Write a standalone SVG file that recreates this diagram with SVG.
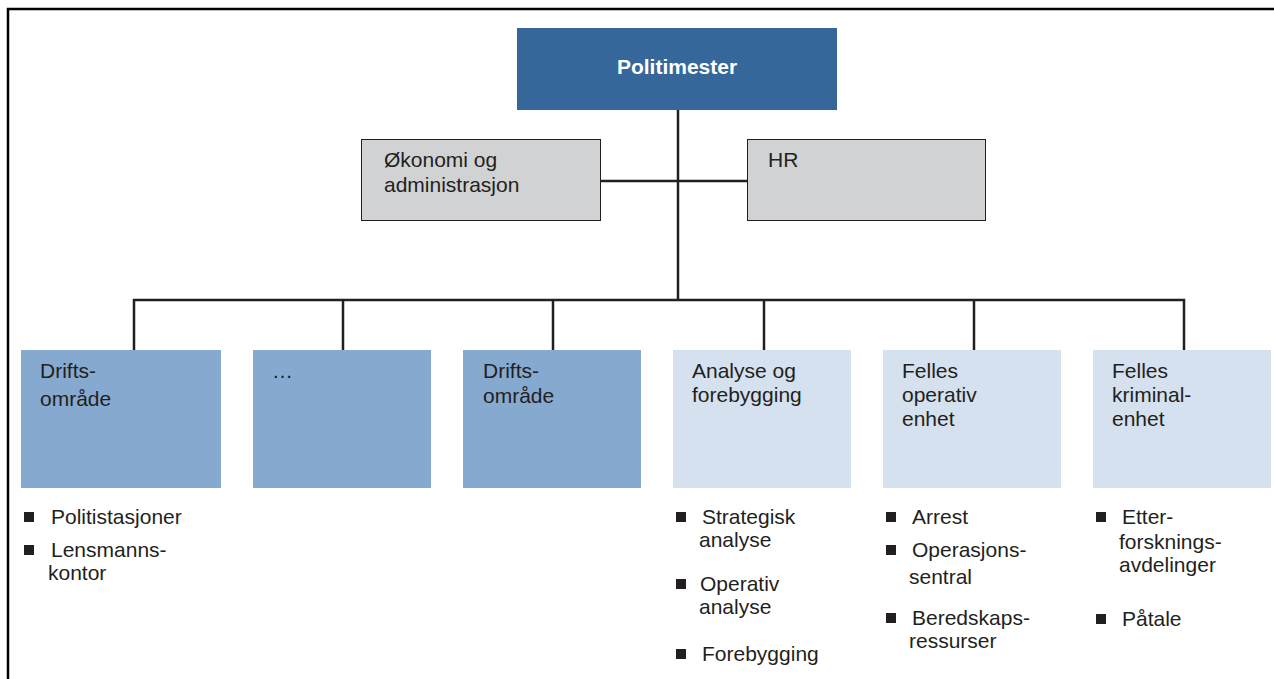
<svg xmlns="http://www.w3.org/2000/svg" width="1274" height="679" viewBox="0 0 1274 679">
  <style>
    text { font-family: "Liberation Sans", Arial, sans-serif; font-size: 21px; fill: #231f20; }
    .title { font-weight: bold; fill: #ffffff; text-anchor: middle; }
    .top { fill: #35679a; }
    .staff { fill: #d1d2d4; stroke: #231f20; stroke-width: 1; }
    .district { fill: #86a9d0; }
    .unit { fill: #d5e1ee; }
    .bullet { fill: #231f20; }
    .conn { fill: none; stroke: #231f20; stroke-width: 2.5; }
    .frame { fill: none; stroke: #000000; stroke-width: 2.5; }
  </style>

  <rect x="0" y="0" width="1274" height="679" fill="#ffffff"/>
  <path class="frame" d="M8,679 V9 H1274"/>

  <!-- connectors -->
  <g id="connectors">
    <path class="conn" d="M678,109 V300"/>
    <path class="conn" d="M600,181 H747"/>
    <path class="conn" d="M134,350 V300 H1184 V350"/>
    <path class="conn" d="M343,300 V350"/>
    <path class="conn" d="M553,300 V350"/>
    <path class="conn" d="M764,300 V350"/>
    <path class="conn" d="M974,300 V350"/>
  </g>

  <g id="politimester">
    <rect class="top" x="517" y="28" width="320" height="82"/>
    <text class="title" x="677" y="74">Politimester</text>
  </g>

  <g id="okonomi">
    <rect class="staff" x="361.5" y="139.5" width="239" height="81"/>
    <text x="384" y="167">Økonomi og</text>
    <text x="384" y="192">administrasjon</text>
  </g>

  <g id="hr">
    <rect class="staff" x="747.5" y="139.5" width="238" height="81"/>
    <text x="768" y="167">HR</text>
  </g>

  <g id="driftsomrade-1">
    <rect class="district" x="21" y="350" width="200" height="138"/>
    <text x="40" y="378">Drifts-</text>
    <text x="40" y="406">område</text>
    <rect class="bullet" x="24" y="512" width="10" height="10"/>
    <text x="51" y="524">Politistasjoner</text>
    <rect class="bullet" x="24" y="545" width="10" height="10"/>
    <text x="51" y="557">Lensmanns-</text>
    <text x="48" y="580">kontor</text>
  </g>

  <g id="driftsomrade-2">
    <rect class="district" x="253" y="350" width="178" height="138"/>
    <text x="272" y="378">…</text>
  </g>

  <g id="driftsomrade-3">
    <rect class="district" x="463" y="350" width="178" height="138"/>
    <text x="483" y="378">Drifts-</text>
    <text x="483" y="403">område</text>
  </g>

  <g id="analyse">
    <rect class="unit" x="673" y="350" width="178" height="138"/>
    <text x="692" y="378">Analyse og</text>
    <text x="692" y="402">forebygging</text>
    <rect class="bullet" x="676" y="512" width="10" height="10"/>
    <text x="702" y="524">Strategisk</text>
    <text x="699" y="547">analyse</text>
    <rect class="bullet" x="676" y="579" width="10" height="10"/>
    <text x="700" y="591">Operativ</text>
    <text x="699" y="614">analyse</text>
    <rect class="bullet" x="676" y="649" width="10" height="10"/>
    <text x="702" y="661">Forebygging</text>
  </g>

  <g id="felles-operativ">
    <rect class="unit" x="883" y="350" width="178" height="138"/>
    <text x="902" y="378">Felles</text>
    <text x="902" y="402">operativ</text>
    <text x="902" y="426">enhet</text>
    <rect class="bullet" x="886" y="512" width="10" height="10"/>
    <text x="912" y="524">Arrest</text>
    <rect class="bullet" x="886" y="545" width="10" height="10"/>
    <text x="912" y="557">Operasjons-</text>
    <text x="909" y="584">sentral</text>
    <rect class="bullet" x="886" y="613" width="10" height="10"/>
    <text x="912" y="625">Beredskaps-</text>
    <text x="909" y="648">ressurser</text>
  </g>

  <g id="felles-kriminal">
    <rect class="unit" x="1093" y="350" width="178" height="138"/>
    <text x="1112" y="378">Felles</text>
    <text x="1112" y="402">kriminal-</text>
    <text x="1112" y="426">enhet</text>
    <rect class="bullet" x="1096" y="512" width="10" height="10"/>
    <text x="1122" y="524">Etter-</text>
    <text x="1119" y="549">forsknings-</text>
    <text x="1119" y="572">avdelinger</text>
    <rect class="bullet" x="1096" y="614" width="10" height="10"/>
    <text x="1122" y="626">Påtale</text>
  </g>
</svg>
